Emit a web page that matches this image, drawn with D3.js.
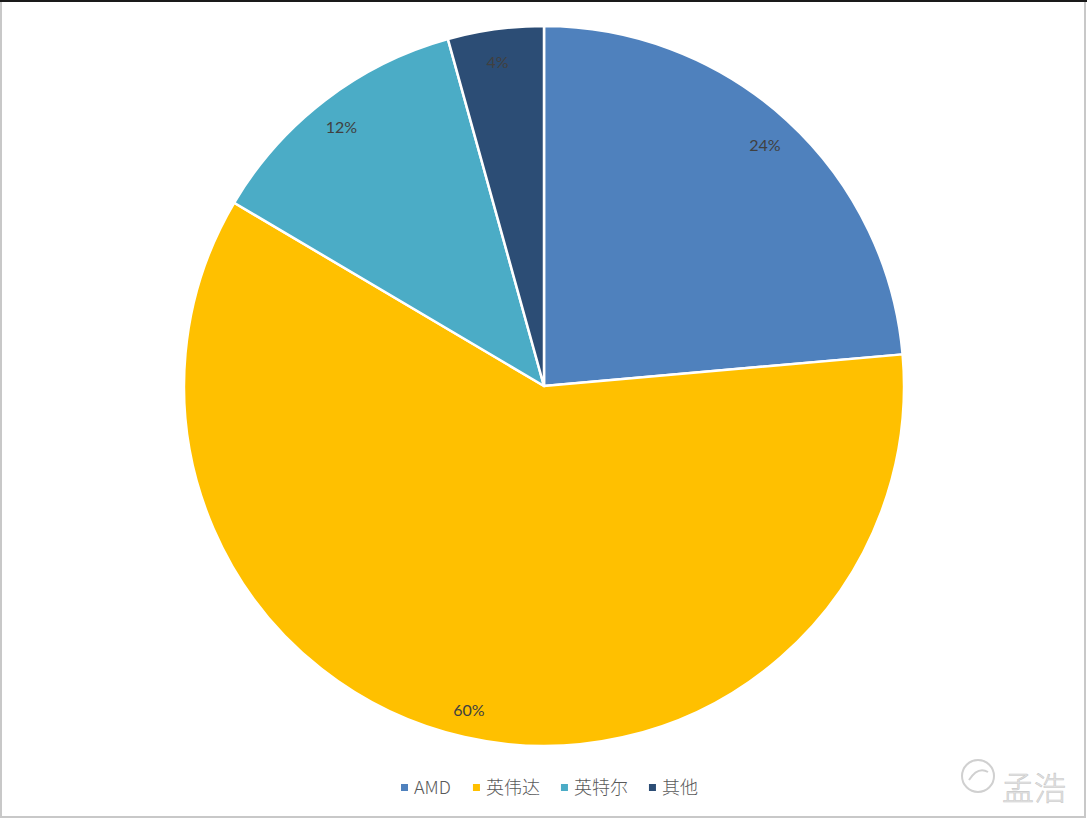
<!DOCTYPE html>
<html>
<head>
<meta charset="utf-8">
<script src="https://cdn.jsdelivr.net/npm/d3@7"></script>
<style>
  body { margin: 0; background: #fff; }
  svg { display: block; }
</style>
</head>
<body>
<svg id="chart" width="1087" height="818"></svg>
<script>
var names = ['AMD', '英伟达', '英特尔', '其他']
var shares = [23.6, 59.9, 12.2, 4.3]
var colors = ['#4f81bd', '#ffc000', '#4bacc6', '#2c4d75']

var svg = d3.select('#chart'),
    width = +svg.attr('width'),
    height = +svg.attr('height')

// frame
svg.append('rect')
    .attr('x', 1).attr('y', 1)
    .attr('width', width - 3).attr('height', height - 2)
    .attr('fill', '#fff')
    .attr('stroke', '#c8c8c8')
    .attr('stroke-width', 2)
svg.append('line')
    .attr('x1', 0).attr('x2', width)
    .attr('y1', 1).attr('y2', 1)
    .attr('stroke', '#1a1a1a')
    .attr('stroke-width', 2)

var cx = 544, cy = 386, r = 360

var data = names.map((d, i) => ({ name: d, value: shares[i], color: colors[i] }))
var total = d3.sum(shares)

var pie = d3.pie().sort(null).value(d => d.value)
var arc = d3.arc().innerRadius(0).outerRadius(r)
var labelArc = d3.arc().innerRadius(330).outerRadius(330)

var g = svg.append('g').attr('transform', `translate(${cx},${cy})`)

g.selectAll('path.slice')
    .data(pie(data))
    .enter().append('path')
    .attr('class', 'slice')
    .attr('d', arc)
    .attr('fill', d => d.data.color)
    .attr('stroke', '#fff')
    .attr('stroke-width', 2.5)
    .attr('stroke-linejoin', 'round')

g.selectAll('text.pct')
    .data(pie(data))
    .enter().append('text')
    .attr('class', 'pct')
    .attr('transform', d => {
        var c = labelArc.centroid(d)
        return `translate(${c[0] - 2},${c[1] + 3})`
    })
    .attr('text-anchor', 'middle')
    .attr('dy', '0.35em')
    .style('font-family', 'Lato, "Open Sans", sans-serif')
    .style('font-size', '16px')
    .style('fill', '#404040')
    .text(d => Math.round(d.data.value / total * 100) + '%')

// legend
var legend = svg.append('g').attr('class', 'legend')
var lx = 401, ly = 788
var item = legend.selectAll('g')
    .data(data)
    .enter().append('g')

var offsets = []
var pos = lx
data.forEach(function (d, i) {
    offsets.push(pos)
    var t = svg.append('text')
        .style('font-family', '"Noto Sans CJK SC", "Noto Sans", sans-serif')
        .style('font-size', '18px')
        .text(d.name)
    var w = t.node().getComputedTextLength()
    t.remove()
    pos += 13 + w + 21
})

item.attr('transform', (d, i) => `translate(${offsets[i]},${ly})`)
item.append('rect')
    .attr('x', 0).attr('y', -4)
    .attr('width', 7).attr('height', 7)
    .attr('fill', d => d.color)
item.append('text')
    .attr('x', 13)
    .attr('dy', '0.35em')
    .style('font-family', '"Noto Sans CJK SC", "Noto Sans", sans-serif')
    .style('font-size', '18px')
    .style('font-weight', 300)
    .style('fill', '#595959')
    .text(d => d.name)

// watermark
var wm = svg.append('g').attr('transform', 'translate(978,776)')
wm.append('circle')
    .attr('r', 16)
    .attr('fill', 'none')
    .attr('stroke', '#d0d0d0')
    .attr('stroke-width', 2)
wm.append('path')
    .attr('d', 'M-9,4 Q0,-10 10,-4')
    .attr('fill', 'none')
    .attr('stroke', '#d0d0d0')
    .attr('stroke-width', 2)
svg.append('text')
    .attr('x', 1002).attr('y', 800)
    .style('font-family', '"Noto Sans CJK SC", sans-serif')
    .style('font-size', '32px')
    .style('font-weight', 300)
    .style('fill', '#e4e4e4')
    .style('stroke', '#c8c8c8')
    .style('stroke-width', 0.6)
    .text('孟浩')
</script>
</body>
</html>
